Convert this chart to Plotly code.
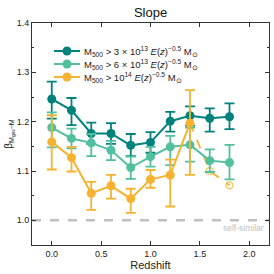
import plotly.graph_objects as go

z = [0.0, 0.2, 0.4, 0.6, 0.8, 1.0, 1.2, 1.4, 1.6, 1.8]

s1 = [1.246, 1.223, 1.176, 1.176, 1.152, 1.158, 1.201, 1.212, 1.207, 1.210]
s1_up = [0.035, 0.025, 0.022, 0.021, 0.023, 0.021, 0.019, 0.019, 0.020, 0.027]
s1_dn = [0.040, 0.030, 0.021, 0.021, 0.022, 0.021, 0.021, 0.020, 0.027, 0.025]

s2 = [1.188, 1.166, 1.157, 1.142, 1.107, 1.129, 1.149, 1.153, 1.121, 1.117]
s2_up = [0.031, 0.020, 0.018, 0.019, 0.022, 0.020, 0.022, 0.035, 0.023, 0.036]
s2_dn = [0.040, 0.020, 0.027, 0.020, 0.023, 0.020, 0.037, 0.034, 0.023, 0.034]

z3 = [0.0, 0.2, 0.4, 0.6, 0.8, 1.0, 1.2, 1.4]
s3 = [1.159, 1.127, 1.055, 1.070, 1.044, 1.083, 1.092, 1.197]
s3_up = [0.054, 0.022, 0.023, 0.022, 0.020, 0.019, 0.031, 0.067]
s3_dn = [0.056, 0.028, 0.034, 0.026, 0.029, 0.017, 0.064, 0.105]

z3_ext = [1.4, 1.6, 1.8]
s3_ext = [1.197, 1.100, 1.071]

c1 = "#00827c"
c2 = "#52c0a0"
c3 = "#f5b331"

labels = [
    "M<sub>500</sub> > 3 × 10<sup>13</sup> <i>E</i>(<i>z</i>)<sup>−0.5</sup> M<sub>⊙</sub>",
    "M<sub>500</sub> > 6 × 10<sup>13</sup> <i>E</i>(<i>z</i>)<sup>−0.5</sup> M<sub>⊙</sub>",
    "M<sub>500</sub> > 10<sup>14</sup> <i>E</i>(<i>z</i>)<sup>−0.5</sup> M<sub>⊙</sub>",
]
colors = [c1, c2, c3]

W, H = 274, 274
ML, MR, MT, MB = 32, 5, 23, 29
PW, PH = W - ML - MR, H - MT - MB

fig = go.Figure()

# self-similar line
fig.add_trace(go.Scatter(x=[-0.2, 2.2], y=[1.0, 1.0], mode="lines",
                         line=dict(color="#c0c0c0", width=2.5, dash="dash"),
                         showlegend=False, hoverinfo="skip"))

# dashed extension for orange
fig.add_trace(go.Scatter(x=z3_ext, y=s3_ext, mode="lines+markers",
                         line=dict(color=c3, width=1.8, dash="dash"),
                         marker=dict(symbol="circle-open", size=[0, 7, 7],
                                     color=c3, line=dict(color=c3, width=1.5)),
                         showlegend=False))

for x, y, up, dn, c, lab in [(z, s1, s1_up, s1_dn, c1, labels[0]),
                              (z, s2, s2_up, s2_dn, c2, labels[1]),
                              (z3, s3, s3_up, s3_dn, c3, labels[2])]:
    fig.add_trace(go.Scatter(
        x=x, y=y, mode="lines+markers", name=lab, showlegend=False,
        line=dict(color=c, width=2),
        marker=dict(color=c, size=9, symbol="circle"),
        error_y=dict(type="data", symmetric=False, array=up, arrayminus=dn,
                     color=c, thickness=1.8, width=5),
    ))

# compact legend (keys as shapes, labels as text)
def px_x(p):
    return (p - ML) / PW

def px_y(p):
    return 1 - (p - MT) / PH

for i, (lab, c) in enumerate(zip(labels, colors)):
    ry = 51 + 13 * i
    fig.add_shape(type="line", xref="paper", yref="paper",
                  x0=px_x(54), x1=px_x(80), y0=px_y(ry), y1=px_y(ry),
                  line=dict(color=c, width=2))
    fig.add_shape(type="circle", xref="paper", yref="paper",
                  x0=px_x(62.5), x1=px_x(71.5), y0=px_y(ry + 4.5), y1=px_y(ry - 4.5),
                  fillcolor=c, line=dict(color=c, width=0))
    fig.add_annotation(x=px_x(82), y=px_y(ry), xref="paper", yref="paper",
                       text=lab, showarrow=False, xanchor="left", yanchor="middle",
                       font=dict(size=9.5, color="#222"))

fig.add_annotation(x=2.165, y=0.985, xref="x", yref="y", text="self-similar",
                   showarrow=False, xanchor="right", yanchor="middle",
                   font=dict(size=8.5, color="#c0c0c0"))

fig.update_layout(
    width=W, height=H,
    margin=dict(l=ML, r=MR, t=MT, b=MB),
    paper_bgcolor="white", plot_bgcolor="white",
    font=dict(family="Liberation Sans, Arial, sans-serif", size=9, color="#222"),
    title=dict(text="Slope", xref="paper", x=0.5, xanchor="center", y=0.955, yanchor="middle",
               font=dict(size=13, color="#111")),
    showlegend=False,
)

fig.update_xaxes(range=[-0.2, 2.2], tickvals=[0.0, 0.5, 1.0, 1.5, 2.0],
                 ticktext=["0.0", "0.5", "1.0", "1.5", "2.0"], automargin=False,
                 ticks="inside", ticklen=4, tickcolor="#333", mirror="ticks",
                 showline=True, linecolor="#333", linewidth=1, showgrid=False, zeroline=False,
                 title=dict(text="Redshift", font=dict(size=11), standoff=2))
fig.update_yaxes(range=[0.95, 1.4], tickvals=[1.0, 1.1, 1.2, 1.3, 1.4],
                 ticktext=["1.0", "1.1", "1.2", "1.3", "1.4"], automargin=False,
                 ticks="inside", ticklen=4, tickcolor="#333", mirror="ticks",
                 showline=True, linecolor="#333", linewidth=1, showgrid=False, zeroline=False,
                 minor=dict(ticks="inside", ticklen=2, dtick=0.05, tickcolor="#333"),
                 title=dict(text="β<sub>M<sub>gas</sub>−M</sub>", font=dict(size=10), standoff=2))

fig.write_html("out.html", config={"displayModeBar": False},
               post_script="document.body.style.margin='0';")
